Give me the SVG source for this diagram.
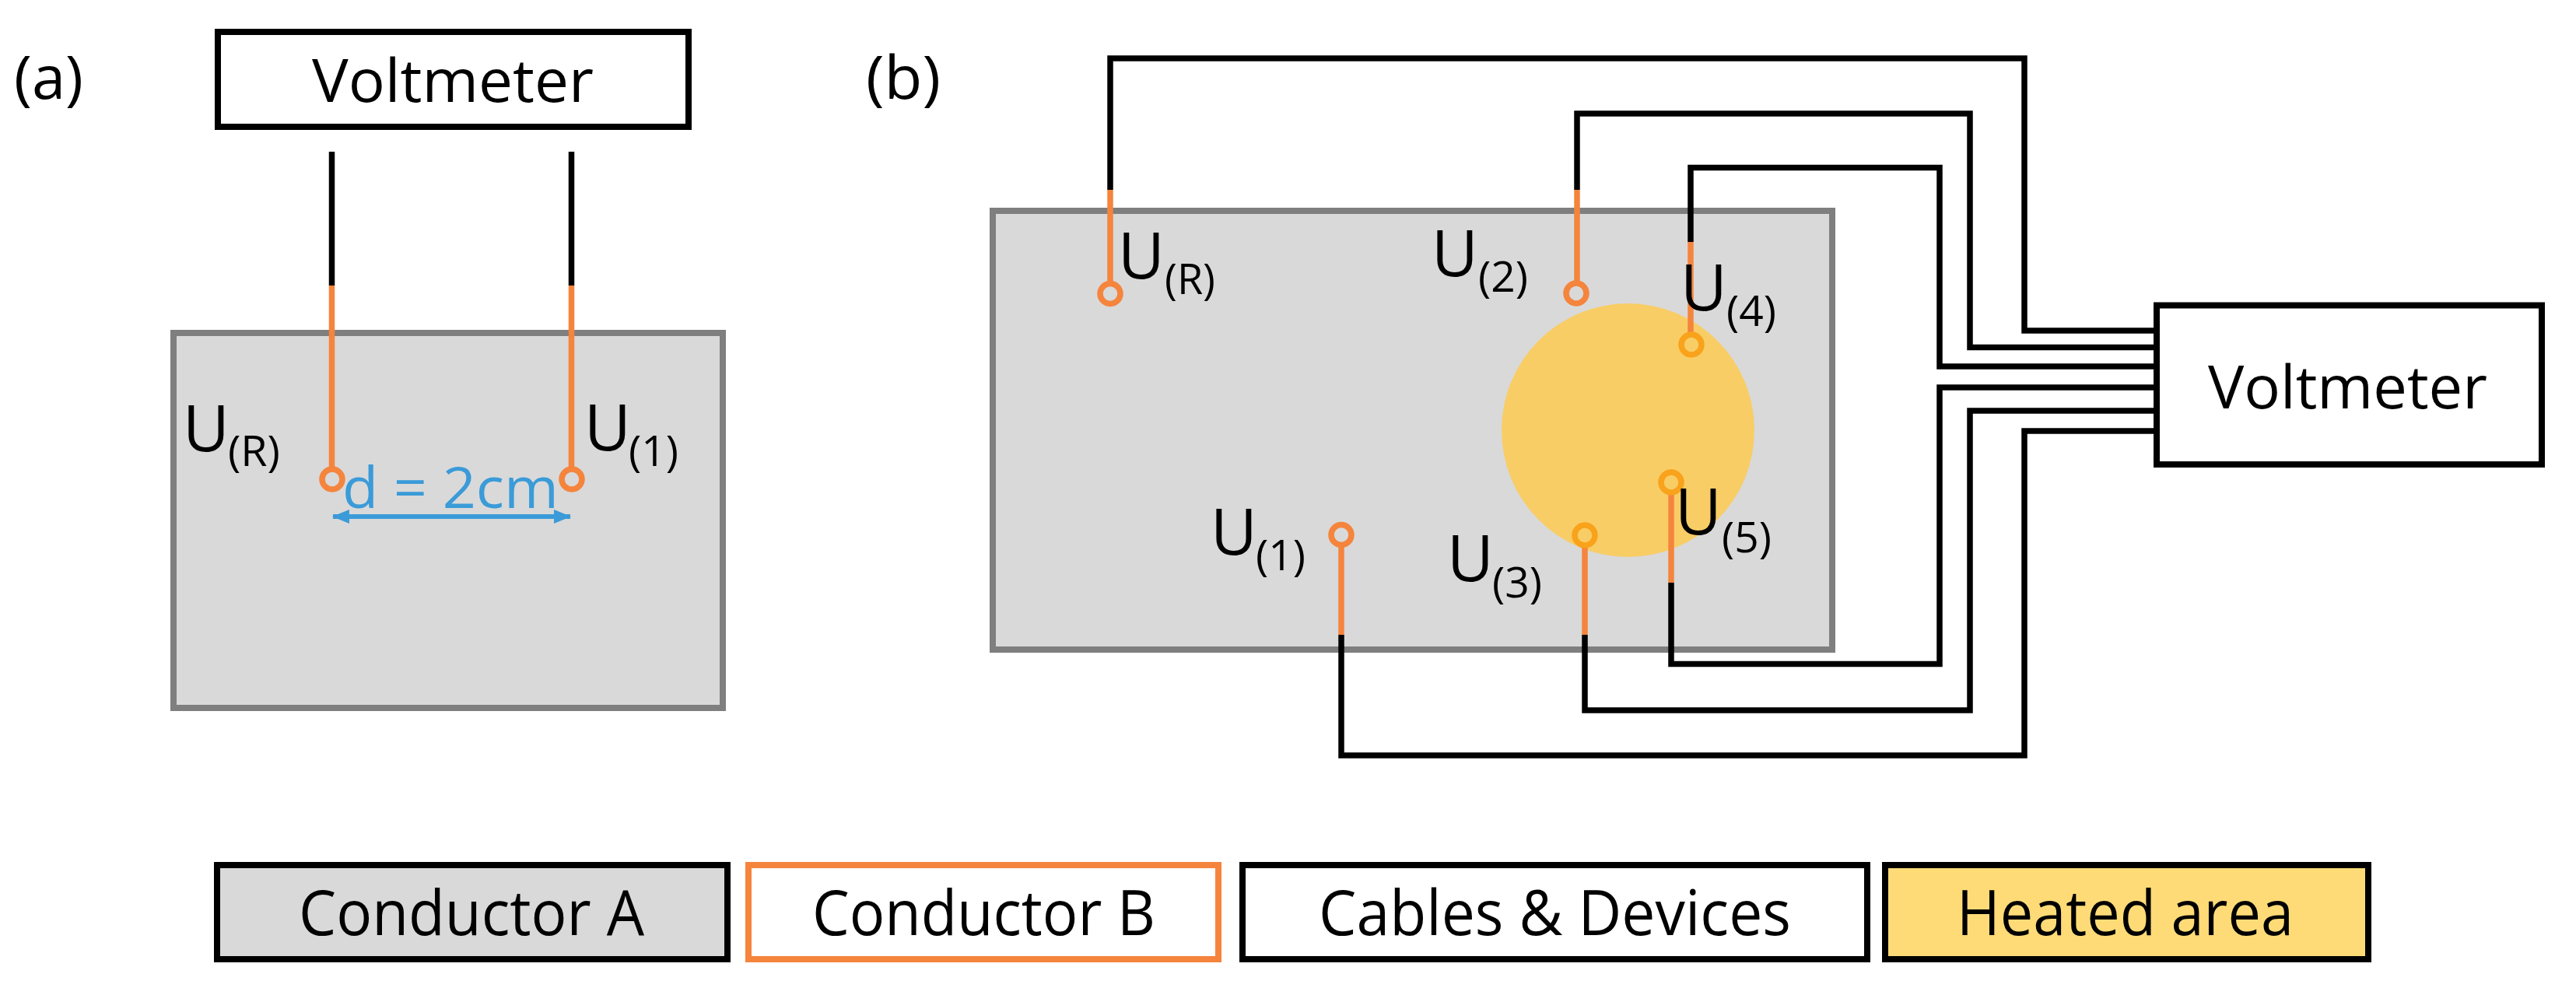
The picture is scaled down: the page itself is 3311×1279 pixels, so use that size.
<svg xmlns="http://www.w3.org/2000/svg" width="3311" height="1279" viewBox="0 0 3311 1279">
<style>
text{font-family:"Open Sans","Noto Sans",sans-serif;fill:#000}
.box{fill:#fff;stroke:#000;stroke-width:8}
.cond{fill:#d9d9d9;stroke:#7f7f7f;stroke-width:8}
.w{fill:none;stroke:#000;stroke-width:7.5;stroke-linejoin:miter}
.o{fill:none;stroke:#f5843d;stroke-width:7.5}
.c{fill:none;stroke:#f5843d;stroke-width:7.5}
.cy{fill:none;stroke:#f9a21b;stroke-width:7.5}
.big{font-size:76px}
.lab{font-size:80px}
.u{font-size:82px}
.s{font-size:54px}
</style>
<defs>
<marker id="ah" viewBox="0 0 22 18" refX="21" refY="9" markerUnits="userSpaceOnUse" markerWidth="22" markerHeight="18" orient="auto-start-reverse"><path d="M0 0L22 9L0 18Z" fill="#3a9bd8"/></marker>
</defs>
<rect width="3311" height="1279" fill="#fff"/>
<text id="label-a" class="big" x="18" y="127" textLength="89" lengthAdjust="spacingAndGlyphs">(a)</text>
<text id="label-b" class="big" x="1113" y="127" textLength="96" lengthAdjust="spacingAndGlyphs">(b)</text>
<g id="conductor-a-panel-a"><rect class="cond" x="223" y="428" width="706" height="482"/></g>
<g id="conductor-a-panel-b"><rect class="cond" x="1276" y="271" width="1079" height="564"/></g>
<g id="heated-area"><ellipse cx="2092.5" cy="553" rx="162.5" ry="163" fill="#f8cd66"/></g>
<g id="voltmeter-a"><rect class="box" x="280" y="41" width="605" height="122"/><text class="big" x="401" y="131" textLength="362" lengthAdjust="spacingAndGlyphs">Voltmeter</text></g>
<g id="voltmeter-b"><rect class="box" x="2772" y="392.5" width="495" height="204.5"/><text class="big" x="2838" y="525" textLength="359" lengthAdjust="spacingAndGlyphs">Voltmeter</text></g>
<g id="connectors">
<path class="w" d="M426.5 195V367M734.5 195V367"/>
<path class="o" d="M426.5 367V603M734.5 367V603"/>
<path class="w" d="M1427 244V75H2602V425H2770"/>
<path class="o" d="M1427 244V364"/>
<path class="w" d="M2027 244V146H2532V446.5H2770"/>
<path class="o" d="M2027 244V364"/>
<path class="w" d="M2173 311V215.5H2493V471H2770"/>
<path class="o" d="M2173 311V430"/>
<path class="w" d="M2148 749V853.5H2493V498H2770"/>
<path class="o" d="M2148 633V749"/>
<path class="w" d="M2037 816V913H2532V528H2770"/>
<path class="o" d="M2037 701V816"/>
<path class="w" d="M1724 816V971H2602V554H2770"/>
<path class="o" d="M1724 700V816"/>
<path d="M428 664H733" fill="none" stroke="#3a9bd8" stroke-width="6" marker-start="url(#ah)" marker-end="url(#ah)"/>
</g>
<g id="probe-a-r"><circle class="c" cx="427" cy="616" r="13"/><text class="u" x="235" y="580">U</text><text class="s" x="293" y="599" textLength="67" lengthAdjust="spacingAndGlyphs">(R)</text></g>
<g id="probe-a-1"><circle class="c" cx="735" cy="616" r="13"/><text class="u" x="751" y="579">U</text><text class="s" x="808" y="599" textLength="64" lengthAdjust="spacingAndGlyphs">(1)</text></g>
<text id="distance" x="440" y="653" font-size="74" style="fill:#3a9bd8" textLength="278" lengthAdjust="spacingAndGlyphs">d = 2cm</text>
<g id="probe-b-r"><circle class="c" cx="1427" cy="377.5" r="13"/><text class="u" x="1437" y="358">U</text><text class="s" x="1497" y="378" textLength="65" lengthAdjust="spacingAndGlyphs">(R)</text></g>
<g id="probe-b-2"><circle class="c" cx="2026" cy="377" r="13"/><text class="u" x="1840" y="355">U</text><text class="s" x="1900" y="375" textLength="64" lengthAdjust="spacingAndGlyphs">(2)</text></g>
<g id="probe-b-4"><circle class="cy" cx="2174" cy="443" r="13"/><text class="u" x="2160" y="399">U</text><text class="s" x="2219" y="419" textLength="64" lengthAdjust="spacingAndGlyphs">(4)</text></g>
<g id="probe-b-5"><circle class="cy" cx="2148" cy="620" r="13"/><text class="u" x="2153" y="687">U</text><text class="s" x="2213" y="710" textLength="64" lengthAdjust="spacingAndGlyphs">(5)</text></g>
<g id="probe-b-3"><circle class="cy" cx="2037" cy="688" r="13"/><text class="u" x="1860" y="747">U</text><text class="s" x="1918" y="768" textLength="64" lengthAdjust="spacingAndGlyphs">(3)</text></g>
<g id="probe-b-1"><circle class="c" cx="1724" cy="687.5" r="13"/><text class="u" x="1556" y="713">U</text><text class="s" x="1614" y="733" textLength="64" lengthAdjust="spacingAndGlyphs">(1)</text></g>
<g id="legend-a"><rect x="279" y="1112" width="656" height="121" fill="#d9d9d9" stroke="#000" stroke-width="8"/><text class="lab" x="384" y="1202" textLength="444" lengthAdjust="spacingAndGlyphs">Conductor A</text></g>
<g id="legend-b"><rect x="962" y="1112" width="604" height="121" fill="#fff" stroke="#f5843d" stroke-width="8"/><text class="lab" x="1044" y="1202" textLength="441" lengthAdjust="spacingAndGlyphs">Conductor B</text></g>
<g id="legend-c"><rect x="1597" y="1112" width="803" height="121" fill="#fff" stroke="#000" stroke-width="8"/><text class="lab" x="1695" y="1202" textLength="607" lengthAdjust="spacingAndGlyphs">Cables &amp; Devices</text></g>
<g id="legend-h"><rect x="2423" y="1112" width="621" height="121" fill="#ffdb77" stroke="#000" stroke-width="8"/><text class="lab" x="2515" y="1202" textLength="433" lengthAdjust="spacingAndGlyphs">Heated area</text></g>
</svg>
